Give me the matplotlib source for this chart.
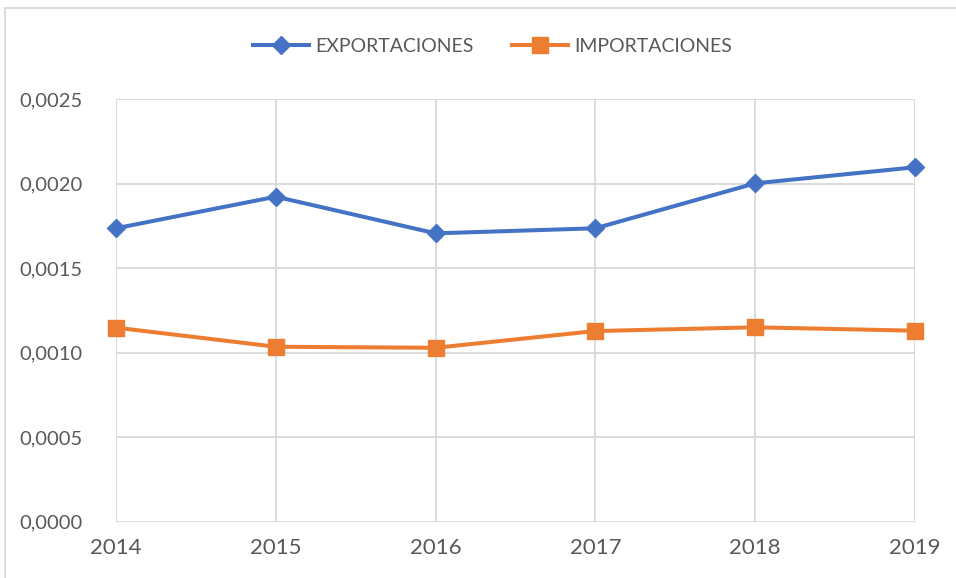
import matplotlib

matplotlib.use("Agg")
import matplotlib.pyplot as plt
from matplotlib.patches import Rectangle
from matplotlib.ticker import FuncFormatter, MultipleLocator

years = ["2014", "2015", "2016", "2017", "2018", "2019"]
exportaciones = [0.001735, 0.001922, 0.001705, 0.001735, 0.002001, 0.002096]
importaciones = [0.001147, 0.001034, 0.001028, 0.001127, 0.001149, 0.001129]

BLUE = "#4472C4"
ORANGE = "#ED7D31"
GRID = "#D9D9D9"
TEXT = "#595959"

plt.rcParams["font.family"] = ["Lato", "DejaVu Sans"]

fig = plt.figure(figsize=(9.56, 5.78), dpi=100)
ax = fig.add_axes([116 / 956, 1 - 521.5 / 578, (915 - 116) / 956, (521.5 - 99) / 578])

x = range(len(years))
ax.plot(x, exportaciones, color=BLUE, lw=2.9, marker="D", ms=9,
        label="EXPORTACIONES", zorder=3, clip_on=False)
ax.plot(x, importaciones, color=ORANGE, lw=2.9, marker="s", ms=12,
        label="IMPORTACIONES", zorder=3, clip_on=False)

ax.set_xlim(0, len(years) - 1)
ax.set_ylim(0, 0.0025)
ax.set_xticks(list(x))
ax.set_xticklabels(years)
ax.yaxis.set_major_locator(MultipleLocator(0.0005))
ax.yaxis.set_major_formatter(FuncFormatter(lambda v, _: f"{v:.4f}".replace(".", ",")))

ax.grid(True, color=GRID, lw=1.3)
ax.set_axisbelow(True)
for s in ax.spines.values():
    s.set_visible(False)
ax.tick_params(axis="both", length=0, colors=TEXT)
ax.tick_params(axis="y", labelsize=14.5, pad=24)
ax.tick_params(axis="x", labelsize=16, pad=12)

fig.legend(loc="center", bbox_to_anchor=(0.515, 0.92), ncol=2, frameon=False,
           fontsize=14, handlelength=2.9, handletextpad=0.3, columnspacing=2.0,
           labelcolor=TEXT)

fig.patches.append(Rectangle((5 / 956, -0.1), 1.2, 1.1 - 8 / 578,
                             transform=fig.transFigure, fill=False,
                             edgecolor=GRID, lw=1.3))

fig.savefig("out.png", dpi=100)
